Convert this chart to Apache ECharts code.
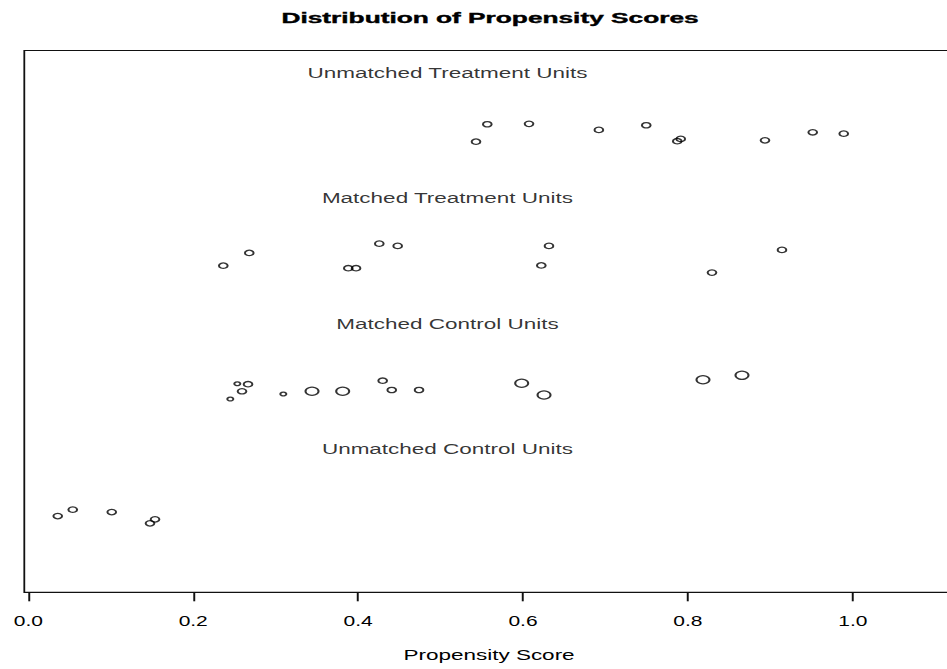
<!DOCTYPE html>
<html>
<head>
<meta charset="utf-8">
<script src="https://cdn.jsdelivr.net/npm/echarts@6/dist/echarts.min.js"></script>
<style>
html,body{margin:0;padding:0;overflow:hidden;background:#fff;width:947px;height:669px;}
#chart{width:660px;height:669px;transform:scaleX(1.5);transform-origin:0 0;}
</style>
</head>
<body>
<div id="chart"></div>
<script>
// ---- data ----
const chartTitle = 'Distribution of Propensity Scores';
const xAxisTitle = 'Propensity Score';
const scoreTicks = [0, 0.2, 0.4, 0.6, 0.8, 1.0];

const groupNames = ['Unmatched Treatment Units', 'Matched Treatment Units', 'Matched Control Units', 'Unmatched Control Units'];
const groupLabelX = [0.5084, 0.5084, 0.5084, 0.5084];
const groupLabelY = [3.984, 2.984, 1.984, 0.98];

// Unmatched treatment units (score, jittered row position)
const unmatchedTreatScore = [0.5430, 0.5567, 0.6073, 0.6920, 0.7495, 0.7871, 0.7913, 0.8935, 0.9514, 0.9890];
const unmatchedTreatJitter = [3.433, 3.572, 3.575, 3.527, 3.564, 3.437, 3.455, 3.444, 3.508, 3.497];

// Matched treatment units
const matchedTreatScore = [0.2365, 0.2680, 0.3881, 0.3975, 0.4257, 0.4480, 0.6222, 0.6315, 0.8292, 0.9141];
const matchedTreatJitter = [2.444, 2.546, 2.424, 2.424, 2.620, 2.602, 2.446, 2.602, 2.389, 2.570];

// Matched control units (with weights -> symbol size)
const matchedCtrlScore = [0.2535, 0.2665, 0.2592, 0.2450, 0.3093, 0.3441, 0.3813, 0.4298, 0.4408, 0.4739, 0.5984, 0.6255, 0.8183, 0.8656];
const matchedCtrlJitter = [1.503, 1.499, 1.443, 1.381, 1.421, 1.443, 1.443, 1.527, 1.453, 1.453, 1.507, 1.413, 1.535, 1.570];
const matchedCtrlWeight = [0.7, 1, 1, 0.7, 0.7, 1.5, 1.5, 1, 1, 1, 1.5, 1.5, 1.5, 1.5];

// Unmatched control units
const unmatchedCtrlScore = [0.0357, 0.0539, 0.1012, 0.1476, 0.1537];
const unmatchedCtrlJitter = [0.448, 0.499, 0.480, 0.390, 0.422];

// ---- build chart ----
const zip = (xs, ys) => xs.map((x, i) => [x, ys[i]]);
const BASE = [5.8, 5.4];
const circleStyle = { color: 'rgba(0,0,0,0)', borderColor: '#000', borderWidth: 1.3 };

const chart = echarts.init(document.getElementById('chart'), null, { renderer: 'svg' });
chart.setOption({
  animation: false,
  backgroundColor: '#fff',
  grid: {
    left: 16.2, right: 0, top: 50.5, bottom: 76.7,
    show: true, borderColor: '#111', borderWidth: 1.2, backgroundColor: 'rgba(0,0,0,0)'
  },
  xAxis: {
    type: 'value',
    min: -0.00486, max: 1.1664,
    splitLine: { show: false },
    axisLine: { show: false, onZero: false },
    axisTick: { show: true, inside: false, customValues: scoreTicks, length: 9, lineStyle: { color: '#111', width: 1.3 } },
    axisLabel: {
      customValues: scoreTicks,
      formatter: v => Number(v).toFixed(1),
      fontFamily: 'Liberation Sans', fontSize: 14, color: '#000', margin: 22
    }
  },
  yAxis: {
    type: 'value', min: -0.16, max: 4.16, show: false
  },
  graphic: [{
    type: 'text',
    x: 326.7, y: 17.8,
    scaleX: 1.13,
    style: {
      text: chartTitle, x: 0, y: 0, textAlign: 'center', textVerticalAlign: 'middle',
      font: 'bold 15.5px "Liberation Sans"', fill: '#000', stroke: '#000', lineWidth: 0.4
    }
  }, {
    type: 'text',
    x: 326, y: 655,
    style: {
      text: xAxisTitle, x: 0, y: 0, textAlign: 'center', textVerticalAlign: 'middle',
      font: '15px "Liberation Sans"', fill: '#000'
    }
  }],
  series: [
    {
      type: 'scatter', name: 'labels', silent: true,
      data: groupNames.map((n, i) => [groupLabelX[i], groupLabelY[i], n]),
      symbolSize: 1,
      itemStyle: { color: 'rgba(0,0,0,0)' },
      label: {
        show: true, position: 'inside', formatter: p => p.data[2],
        fontFamily: 'Liberation Sans', fontSize: 15, color: '#000'
      }
    },
    { type: 'scatter', name: 'Unmatched Treatment', data: zip(unmatchedTreatScore, unmatchedTreatJitter), symbol: 'circle', symbolSize: BASE, itemStyle: circleStyle },
    { type: 'scatter', name: 'Matched Treatment', data: zip(matchedTreatScore, matchedTreatJitter), symbol: 'circle', symbolSize: BASE, itemStyle: circleStyle },
    {
      type: 'scatter', name: 'Matched Control',
      data: matchedCtrlScore.map((x, i) => [x, matchedCtrlJitter[i], matchedCtrlWeight[i]]),
      symbol: 'circle',
      symbolSize: d => [BASE[0] * d[2], BASE[1] * d[2]],
      itemStyle: circleStyle
    },
    { type: 'scatter', name: 'Unmatched Control', data: zip(unmatchedCtrlScore, unmatchedCtrlJitter), symbol: 'circle', symbolSize: BASE, itemStyle: circleStyle }
  ]
});
</script>
</body>
</html>
